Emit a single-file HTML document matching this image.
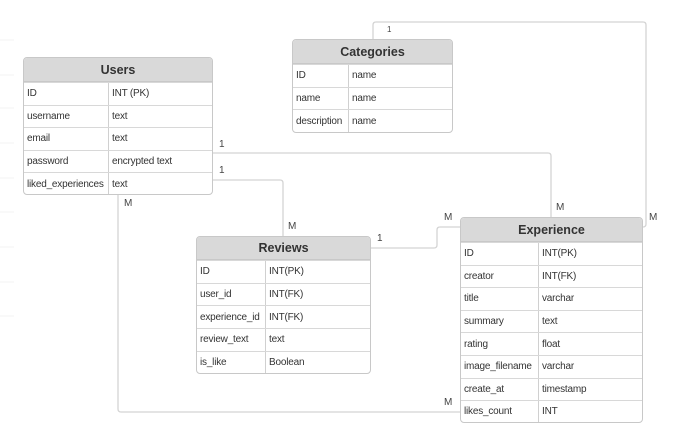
<!DOCTYPE html>
<html><head><style>
body{margin:0;width:677px;height:432px;background:#fff;position:relative;overflow:hidden;font-family:"Liberation Sans",Arial,sans-serif;color:#333}
.t{position:absolute;border:1px solid #c8c8c8;border-radius:4px;background:#fff;overflow:hidden;box-sizing:border-box}
.h{background:#d9d9d9;font-weight:bold;font-size:12.5px;text-align:center;border-bottom:1px solid #c8c8c8;box-sizing:border-box}
.r{display:flex;border-top:1px solid #d8d8d8;font-size:10px;letter-spacing:-0.2px;box-sizing:border-box}
.r:first-of-type{border-top:none}
.r div{padding-left:3px;display:flex;align-items:center}
.r div:first-child{border-right:1px solid #d0d0d0;box-sizing:border-box}
.l{position:absolute;font-size:10px;color:#444}
svg{position:absolute;left:0;top:0}
</style></head><body>
<svg width="677" height="432"><g fill="none" stroke="#d4d4d4" stroke-width="1.3">
<path d="M212 153H548q3 0 3 3V217"/>
<path d="M212 180H280q3 0 3 3V236"/>
<path d="M118 194V409q0 3 3 3H460"/>
<path d="M370 248H434q3 0 3-3V230q0-3 3-3H460"/>
<path d="M373 39V25q0-3 3-3H643q3 0 3 3V224q0 3-3 3H642"/>
</g><g stroke="#f3f3f3"><path d="M0 40H14M0 75H14M0 108H14M0 143H14M0 178H14M0 212H14M0 247H14M0 282H14M0 316H14"/></g></svg>

<div class="t" style="left:23px;top:57px;width:190px;height:138px">
<div class="h" style="height:24px;line-height:24px">Users</div>
<div class="r" style="height:22.6px"><div style="width:85px">ID</div><div>INT (PK)</div></div>
<div class="r" style="height:22.6px"><div style="width:85px">username</div><div>text</div></div>
<div class="r" style="height:22.6px"><div style="width:85px">email</div><div>text</div></div>
<div class="r" style="height:22.6px"><div style="width:85px">password</div><div>encrypted text</div></div>
<div class="r" style="height:22.6px"><div style="width:85px">liked_experiences</div><div>text</div></div>
</div>

<div class="t" style="left:292px;top:39px;width:161px;height:94px">
<div class="h" style="height:24px;line-height:24px">Categories</div>
<div class="r" style="height:22.7px"><div style="width:56px">ID</div><div>name</div></div>
<div class="r" style="height:22.7px"><div style="width:56px">name</div><div>name</div></div>
<div class="r" style="height:22.7px"><div style="width:56px">description</div><div>name</div></div>
</div>

<div class="t" style="left:196px;top:236px;width:175px;height:138px">
<div class="h" style="height:23px;line-height:23px">Reviews</div>
<div class="r" style="height:22.7px"><div style="width:69px">ID</div><div>INT(PK)</div></div>
<div class="r" style="height:22.7px"><div style="width:69px">user_id</div><div>INT(FK)</div></div>
<div class="r" style="height:22.7px"><div style="width:69px">experience_id</div><div>INT(FK)</div></div>
<div class="r" style="height:22.7px"><div style="width:69px">review_text</div><div>text</div></div>
<div class="r" style="height:22.7px"><div style="width:69px">is_like</div><div>Boolean</div></div>
</div>

<div class="t" style="left:460px;top:217px;width:183px;height:206px">
<div class="h" style="height:24px;line-height:24px">Experience</div>
<div class="r" style="height:22.6px"><div style="width:78px">ID</div><div>INT(PK)</div></div>
<div class="r" style="height:22.6px"><div style="width:78px">creator</div><div>INT(FK)</div></div>
<div class="r" style="height:22.6px"><div style="width:78px">title</div><div>varchar</div></div>
<div class="r" style="height:22.6px"><div style="width:78px">summary</div><div>text</div></div>
<div class="r" style="height:22.6px"><div style="width:78px">rating</div><div>float</div></div>
<div class="r" style="height:22.6px"><div style="width:78px">image_filename</div><div>varchar</div></div>
<div class="r" style="height:22.6px"><div style="width:78px">create_at</div><div>timestamp</div></div>
<div class="r" style="height:22.6px"><div style="width:78px">likes_count</div><div>INT</div></div>
</div>

<div class="l" style="left:219px;top:139px">1</div>
<div class="l" style="left:219px;top:165px">1</div>
<div class="l" style="left:288px;top:221px">M</div>
<div class="l" style="left:556px;top:202px">M</div>
<div class="l" style="left:124px;top:198px">M</div>
<div class="l" style="left:444px;top:397px">M</div>
<div class="l" style="left:377px;top:233px">1</div>
<div class="l" style="left:444px;top:212px">M</div>
<div class="l" style="left:387px;top:25px;font-size:8px">1</div>
<div class="l" style="left:649px;top:212px">M</div>
</body></html>
